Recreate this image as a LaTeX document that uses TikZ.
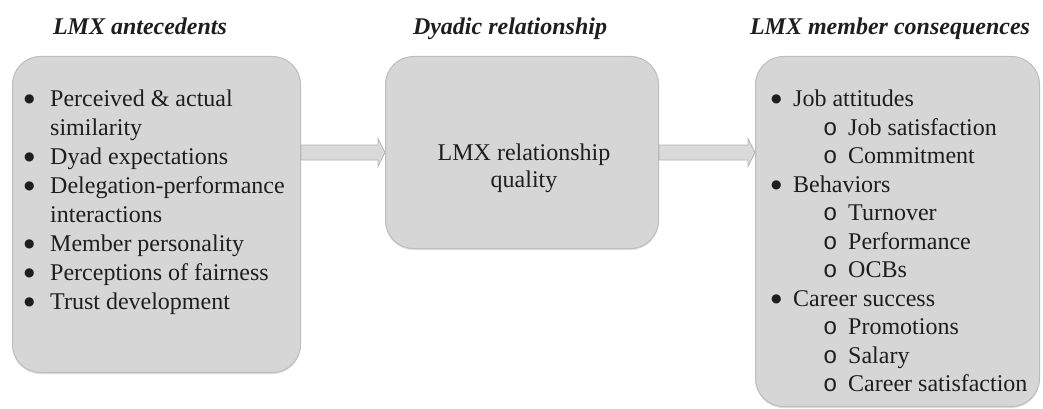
\documentclass[tikz,border=0pt]{standalone}
\usepackage{fontspec}
\setmainfont{Liberation Serif}
\newfontfamily\subfont{Liberation Mono}
\newfontfamily\dotfont{DejaVu Sans}
\usetikzlibrary{calc,shadows}

\definecolor{boxfill}{HTML}{D6D6D6}
\definecolor{boxline}{HTML}{BDBDBD}
\definecolor{arrowfill}{HTML}{DADADA}
\definecolor{arrowline}{HTML}{B4B4B4}
\definecolor{inktext}{HTML}{1E1E1E}

\newcommand{\bigdot}{\raisebox{4pt}{\dotfont\fontsize{12}{12}\selectfont ●}}
\newcommand{\itemone}[2][26pt]{\makebox[#1][l]{\bigdot}#2}
\newcommand{\itemcont}[2][26pt]{\hspace*{#1}#2}
\newcommand{\itemtwo}[1]{\hspace*{52pt}\makebox[25pt][l]{\subfont o}#1}

\begin{document}
\begin{tikzpicture}[x=1pt,y=-1pt,
    box/.style={draw=boxline, fill=boxfill, line width=1pt, rounded corners=28pt,
        inner sep=0pt, drop shadow={shadow xshift=0pt, shadow yshift=-1.5pt, opacity=0.25}},
    heading/.style={anchor=base, inner sep=0pt, text=inktext,
        font=\fontsize{24}{29}\selectfont\bfseries\itshape},
    listtext/.style={anchor=base west, inner sep=0pt, text=inktext},
    blockarrow/.style={draw=arrowline, fill=arrowfill, line width=0.8pt}]
\useasboundingbox (0,0) rectangle (1043,409);

% headings
\node[heading] (hante) at (140,35) {LMX antecedents};
\node[heading] (hdyad) at (510,35) {Dyadic relationship};
\node[heading] (hcons) at (890,35) {LMX member consequences};

% the three boxes
\node[box, minimum width=288pt, minimum height=316pt] (ante) at (156.5,214.5) {};
\node[box, minimum width=273pt, minimum height=192pt] (dyad) at (522,152.5) {};
\node[box, minimum width=284pt, minimum height=350pt] (cons) at (897.5,231.5) {};

% arrows between the boxes
\coordinate (a1) at (ante.east |- dyad.west);
\draw[blockarrow] ($(a1)+(0,-7.5)$) -- ($(dyad.west)+(-7,-7.5)$) -- ($(dyad.west)+(-7,-14)$)
    -- (dyad.west) -- ($(dyad.west)+(-7,14)$) -- ($(dyad.west)+(-7,7.5)$) -- ($(a1)+(0,7.5)$) -- cycle;
\coordinate (a2) at (dyad.east);
\draw[blockarrow] ($(a2)+(0,-7.5)$) -- ($(cons.west |- a2)+(-7,-7.5)$) -- ($(cons.west |- a2)+(-7,-14)$)
    -- (cons.west |- a2) -- ($(cons.west |- a2)+(-7,14)$) -- ($(cons.west |- a2)+(-7,7.5)$) -- ($(a2)+(0,7.5)$) -- cycle;

% box texts
\node[listtext, font=\fontsize{24}{29}\selectfont] (antelist) at (24,106.7) {\begin{tabular}[t]{@{}l@{}}
    \itemone{Perceived \& actual}\\
    \itemcont{similarity}\\
    \itemone{Dyad expectations}\\
    \itemone{Delegation-performance}\\
    \itemcont{interactions}\\
    \itemone{Member personality}\\
    \itemone{Perceptions of fairness}\\
    \itemone{Trust development}
\end{tabular}};

\node[anchor=base, inner sep=0pt, text=inktext, font=\fontsize{24}{28}\selectfont] (dyadtext) at (524,160)
    {\begin{tabular}[t]{@{}c@{}}LMX relationship\\quality\end{tabular}};

\node[listtext, font=\fontsize{24}{28.5}\selectfont] (conslist) at (771,106.7) {\begin{tabular}[t]{@{}l@{}}
    \itemone[22pt]{Job attitudes}\\
    \itemtwo{Job satisfaction}\\
    \itemtwo{Commitment}\\
    \itemone[22pt]{Behaviors}\\
    \itemtwo{Turnover}\\
    \itemtwo{Performance}\\
    \itemtwo{OCBs}\\
    \itemone[22pt]{Career success}\\
    \itemtwo{Promotions}\\
    \itemtwo{Salary}\\
    \itemtwo{Career satisfaction}
\end{tabular}};
\end{tikzpicture}
\end{document}
